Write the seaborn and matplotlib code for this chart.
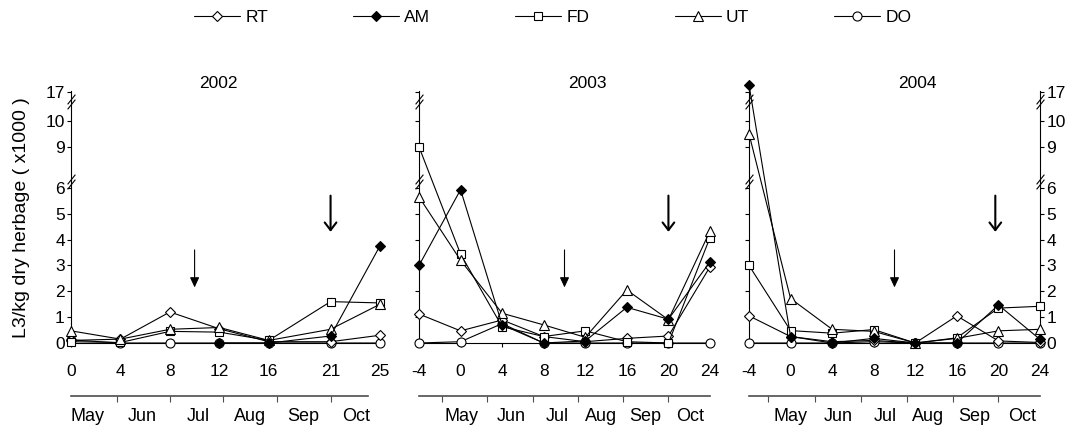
import numpy as np
import matplotlib
matplotlib.use('Agg')
import matplotlib.pyplot as plt
import matplotlib.transforms as mtransforms
import seaborn as sns

# weeks after turnout (x axis of each panel)
weeks_2002 = [0, 4, 8, 12, 16, 21, 25]
weeks_2003 = [-4, 0, 4, 8, 12, 16, 20, 24]
weeks_2004 = [-4, 0, 4, 8, 12, 16, 20, 24]

rt_2002 = [0.10, 0.15, 1.20, 0.55, 0.05, 0.05, 0.30]
am_2002 = [np.nan, np.nan, np.nan, 0.00, 0.00, 0.27, 3.76]
fd_2002 = [0.05, 0.02, 0.45, 0.42, 0.10, 1.60, 1.55]
ut_2002 = [0.47, 0.15, 0.53, 0.60, 0.10, 0.53, 1.50]
do_2002 = [0.12, 0.00, 0.00, 0.00, 0.00, 0.00, 0.00]

rt_2003 = [1.12, 0.47, 0.89, 0.25, 0.05, 0.18, 0.27, 2.95]
am_2003 = [3.00, 5.93, 0.70, 0.00, 0.08, 1.38, 0.92, 3.14]
fd_2003 = [9.00, 3.44, 0.63, 0.25, 0.47, 0.05, 0.00, 4.08]
ut_2003 = [5.65, 3.20, 1.15, 0.70, 0.22, 2.05, 0.90, 4.33]
do_2003 = [0.00, 0.05, 0.75, 0.00, 0.00, 0.00, 0.00, 0.00]

rt_2004 = [1.05, 0.25, 0.05, 0.10, 0.00, 1.05, 0.08, 0.02]
am_2004 = [18.7, 0.25, 0.00, 0.18, 0.00, 0.00, 1.47, 0.14]
fd_2004 = [3.00, 0.48, 0.38, 0.52, 0.00, 0.20, 1.35, 1.42]
ut_2004 = [9.50, 1.72, 0.53, 0.45, 0.00, 0.18, 0.47, 0.53]
do_2004 = [0.00, 0.00, 0.00, 0.05, 0.00, 0.00, 0.00, 0.00]

years = ['2002', '2003', '2004']
xticks_2002 = [0, 4, 8, 12, 16, 21, 25]
xticks_0304 = [-4, 0, 4, 8, 12, 16, 20, 24]
yticks = [0, 1, 2, 3, 4, 5, 6, 9, 10, 17]

# calendar month axis under each panel (in weeks)
months = ['May', 'Jun', 'Jul', 'Aug', 'Sep', 'Oct']
month_edges = [[3.7, 8.0, 12.3, 16.7, 21.0],
               [-1.8, 2.5, 7.0, 11.3, 15.6, 20.0],
               [-2.2, 2.35, 6.8, 11.2, 15.6, 20.0]]
month_mids = [[1.3, 5.8, 10.3, 14.5, 18.8, 23.1],
              [0.1, 4.85, 9.3, 13.5, 17.8, 22.1],
              [-0.05, 4.55, 9.1, 13.2, 17.7, 22.3]]
month_span = [(0, 24), (-4, 24), (-4, 24)]

# arrows marking events
arrow_thin = [10, 10, 10]
arrow_bold = [21, 20, 19.7]

# broken y axis: piecewise linear scale
brk_v = [-10, 0, 6, 9, 10, 17, 40]
brk_p = [-259, 0, 155, 196, 222, 251, 345]


def fwd(v):
    return np.interp(v, brk_v, brk_p)


def inv(p):
    return np.interp(p, brk_p, brk_v)


sns.set_style('ticks')
plt.rcParams['font.family'] = ['Liberation Sans', 'DejaVu Sans']
plt.rcParams['axes.edgecolor'] = 'black'
plt.rcParams['text.color'] = 'black'
plt.rcParams['xtick.color'] = 'black'
plt.rcParams['ytick.color'] = 'black'
plt.rcParams['axes.unicode_minus'] = False

W, H = 1073, 426
fig = plt.figure(figsize=(W / 100, H / 100), dpi=100)
boxes = [(71, 380), (419, 710), (749, 1040)]
y_bot, y_top = 343, 91

data = [
    (weeks_2002, {'RT': rt_2002, 'AM': am_2002, 'FD': fd_2002, 'UT': ut_2002, 'DO': do_2002}),
    (weeks_2003, {'RT': rt_2003, 'AM': am_2003, 'FD': fd_2003, 'UT': ut_2003, 'DO': do_2003}),
    (weeks_2004, {'RT': rt_2004, 'AM': am_2004, 'FD': fd_2004, 'UT': ut_2004, 'DO': do_2004}),
]

# name, marker, face, size ; drawn in this order (DO underneath)
styles = [('DO', 'o', 'white', 6.5),
          ('RT', 'D', 'white', 5.0),
          ('FD', 's', 'white', 5.8),
          ('UT', '^', 'white', 6.8),
          ('AM', 'D', 'black', 5.0)]
legend_order = ['RT', 'AM', 'FD', 'UT', 'DO']
title_x = [0.477, 0.577, 0.577]

handles = {}
for i, (l, r) in enumerate(boxes):
    ax = fig.add_axes([l / W, (H - y_bot) / H, (r - l) / W, (y_bot - y_top) / H])
    ax.set_yscale('function', functions=(fwd, inv))
    weeks, series = data[i]
    for z, (name, mk, face, ms) in enumerate(styles):
        sns.lineplot(x=weeks, y=series[name], ax=ax, color='black', lw=0.8,
                     marker=mk, markersize=ms, markerfacecolor=face,
                     markeredgecolor='black', markeredgewidth=0.8,
                     errorbar=None, clip_on=False, zorder=3 + z)
        if i == 0:
            handles[name] = ax.lines[-1]

    # arrows
    ax.annotate('', xy=(arrow_thin[i], 2.15), xytext=(arrow_thin[i], 3.6),
                arrowprops=dict(arrowstyle='-|>,head_length=0.6,head_width=0.28',
                                lw=0.8, color='black', shrinkA=0, shrinkB=0))
    ax.annotate('', xy=(arrow_bold[i], 4.3), xytext=(arrow_bold[i], 5.7),
                arrowprops=dict(arrowstyle='->,head_length=0.55,head_width=0.42',
                                lw=1.5, color='black', shrinkA=0, shrinkB=0))

    ax.set_xlim(0, 25) if i == 0 else ax.set_xlim(-4, 24)
    ax.set_ylim(0, 17.2)
    ax.set_xticks(xticks_2002 if i == 0 else xticks_0304)
    ax.set_yticks(yticks)
    ax.tick_params(axis='x', direction='out', length=3, width=0.8, pad=12, labelsize=12.5)
    ax.tick_params(axis='y', direction='out', length=3, width=0.8, pad=1.5, labelsize=12.5)
    ax.spines['top'].set_visible(False)
    for s in ax.spines.values():
        s.set_linewidth(0.8)
    spine_x = [0]
    if i == 2:
        ax.tick_params(axis='y', left=True, right=True, labelleft=False, labelright=True)
        spine_x = [0, 1]
    else:
        ax.spines['right'].set_visible(False)
        if i == 1:
            ax.tick_params(axis='y', labelleft=False)
    ax.set_xlabel('')
    ax.set_ylabel('')

    # axis break marks
    for sx in spine_x:
        for v in (6.45, 14.6):
            for dy in (-1.7, 1.7):
                tr = mtransforms.offset_copy(ax.get_yaxis_transform(), fig=fig,
                                             y=dy, units='points')
                ax.plot([sx], [v], transform=tr, marker=[(-0.4, -0.5), (0.4, 0.5)],
                        ms=7, mec='black', mew=0.8, ls='none', clip_on=False, zorder=10)

    ax.text(title_x[i], 1.03, years[i], transform=ax.transAxes,
            ha='center', va='center', fontsize=12.5)

    # month axis
    sec = ax.secondary_xaxis(-0.21)
    sec.set_xticks(month_edges[i], labels=[''] * len(month_edges[i]))
    sec.set_xticks(month_mids[i], labels=months, minor=True)
    sec.tick_params(which='major', direction='out', length=4, width=0.8, color='0.3')
    sec.tick_params(which='minor', length=0, pad=9, labelsize=13)
    sec.spines['bottom'].set_color('0.3')
    sec.spines['bottom'].set_linewidth(1.2)
    sec.spines['bottom'].set_bounds(*month_span[i])

fig.text(22 / W, 1 - 218 / H, 'L3/kg dry herbage ( x1000 )', rotation=90,
         ha='center', va='center', fontsize=14)

fig.legend([handles[n] for n in legend_order], legend_order, loc='center',
           bbox_to_anchor=(0.515, 0.958), ncol=5, frameon=False, fontsize=12.5,
           handlelength=2.65, handletextpad=0.3, columnspacing=4.9)

fig.savefig('out.png', dpi=100)
